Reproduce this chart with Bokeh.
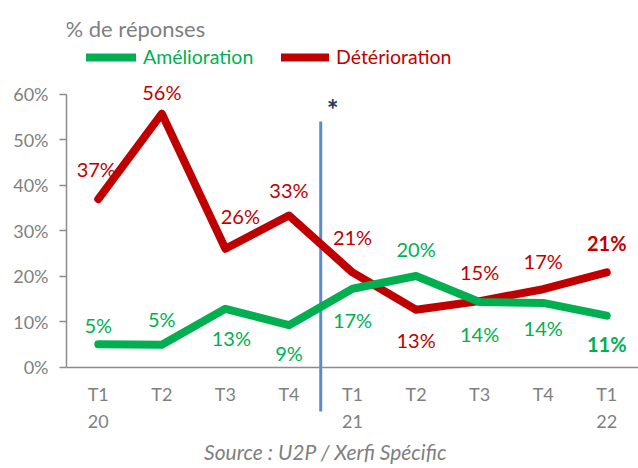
from bokeh.plotting import figure
from bokeh.models import (Range1d, FactorRange, FixedTicker, NumeralTickFormatter,
                          CategoricalAxis, Label, Legend, LegendItem, ColumnDataSource)
from bokeh.core.properties import value
from bokeh.embed import file_html
from bokeh.resources import INLINE

# ---- data ----
quarters = ["T1 20", "T2 20", "T3 20", "T4 20", "T1 21", "T2 21", "T3 21", "T4 21", "T1 22"]
quarter_labels = ["T1", "T2", "T3", "T4", "T1", "T2", "T3", "T4", "T1"]
year_labels = ["20", "", "", "", "21", "", "", "", "22"]
amelioration = [5.1, 5.0, 12.9, 9.3, 17.3, 20.1, 14.4, 14.2, 11.4]
deterioration = [37.0, 55.8, 26.1, 33.4, 20.9, 12.7, 14.6, 17.2, 20.9]
y_ticks = [0, 10, 20, 30, 40, 50, 60]
series_names = ["Amélioration", "Détérioration"]
break_after = "T4 20"
title_text = "% de réponses"
source_text = "Source : U2P / Xerfi Spécific"

GREEN = "#00B050"
RED = "#C00000"
GRAY = "#7F7F7F"
AXIS_GRAY = "#8C8C8C"
FONT = "Lato"

p = figure(x_range=FactorRange(*quarters), y_range=Range1d(-0.22198, 0.80659),
           frame_width=572, frame_height=468,
           min_border_left=66, min_border_right=0, min_border_top=0, min_border_bottom=0,
           toolbar_location=None, output_backend="svg", x_axis_location=None)
p.grid.visible = False
p.outline_line_color = None
p.background_fill_color = "white"

# y axis
ya = p.yaxis[0]
ya.bounds = (0, 0.6)
ya.ticker = FixedTicker(ticks=[t / 100 for t in y_ticks])
ya.formatter = NumeralTickFormatter(format="0%")
ya.minor_tick_line_color = None
ya.major_tick_in = 0
ya.major_tick_out = 7
ya.axis_line_color = AXIS_GRAY
ya.axis_line_width = 1.5
ya.major_tick_line_color = AXIS_GRAY
ya.major_tick_line_width = 1.5
ya.major_label_text_color = GRAY
ya.major_label_text_font = FONT
ya.major_label_text_font_size = "18px"
ya.major_label_standoff = 11

# x axis at y = 0 (labels drawn below as text)
xa = CategoricalAxis(fixed_location=0)
xa.axis_line_color = AXIS_GRAY
xa.axis_line_width = 1.5
xa.major_tick_line_color = None
xa.minor_tick_line_color = None
xa.major_tick_out = 0
xa.major_tick_in = 0
xa.major_label_text_color = None
p.add_layout(xa, "below")

zeros = [0] * len(quarters)
p.text(x=quarters, y=zeros, text=quarter_labels, y_offset=27, text_align="center",
       text_baseline="middle", text_color=GRAY, text_font=value(FONT), text_font_size="18px")
p.text(x=quarters, y=zeros, text=year_labels, y_offset=54, text_align="center",
       text_baseline="middle", text_color=GRAY, text_font=value(FONT), text_font_size="18px")

# break line
bx = quarters.index(break_after) + 1
p.segment(x0=[bx], y0=[-0.0967], x1=[bx], y1=[0.5407], line_color="#5B8BC9", line_width=3)
p.add_layout(Label(x=bx, y=0.569, x_offset=12, text="*", text_color="#1F3864",
                   text_font=FONT, text_font_size="28px", text_font_style="bold",
                   text_align="center", text_baseline="middle"))

# lines
amel = [v / 100 for v in amelioration]
deter = [v / 100 for v in deterioration]
r_det = p.line(quarters, deter, line_color=RED, line_width=8, line_join="round", line_cap="round")
r_am = p.line(quarters, amel, line_color=GREEN, line_width=8, line_join="round", line_cap="round")

# data labels
am_yoff = [-19, -26, 29, 28, 31, -27, 32, 25, 28]
am_xoff = [0, 0, 6, 0, 0, 0, 0, 0, 0]
det_yoff = [-30, -22, -33, -26, -35, 30, -29, -28, -29]
det_xoff = [-2, 0, 15, 0, 0, 0, 0, 0, 0]
styles = ["normal"] * (len(quarters) - 1) + ["bold"]

for vals, raw, xo, yo, col in [(amel, amelioration, am_xoff, am_yoff, GREEN),
                               (deter, deterioration, det_xoff, det_yoff, RED)]:
    src = ColumnDataSource(dict(x=quarters, y=vals, t=[f"{round(v)}%" for v in raw],
                                xo=xo, yo=yo, st=styles))
    p.text(x="x", y="y", text="t", x_offset="xo", y_offset="yo", text_font_style="st",
           source=src, text_align="center", text_baseline="middle", text_color=col,
           text_font=value(FONT), text_font_size="20px")

# legends
for name, rend, col, xloc, gw in [(series_names[0], r_am, GREEN, 20, 50),
                                  (series_names[1], r_det, RED, 215, 48)]:
    leg = Legend(items=[LegendItem(label=name, renderers=[rend])], location=(xloc, 400),
                 orientation="horizontal", glyph_width=gw, glyph_height=22, label_height=22,
                 label_standoff=7, padding=0, margin=0, border_line_color=None,
                 background_fill_alpha=0, label_text_color=col,
                 label_text_font=FONT, label_text_font_size="19.5px")
    p.add_layout(leg, "center")

# title and source
p.add_layout(Label(x=-1, y=440, x_units="screen", y_units="screen", text=title_text,
                   text_color=GRAY, text_font=FONT, text_font_size="22px",
                   text_baseline="alphabetic", text_align="left"))
p.add_layout(Label(x=259, y=17, x_units="screen", y_units="screen", text=source_text,
                   text_color=GRAY, text_font=FONT, text_font_size="21px",
                   text_font_style="italic", text_baseline="middle", text_align="center"))

open("out.html", "w").write(file_html(p, INLINE))
